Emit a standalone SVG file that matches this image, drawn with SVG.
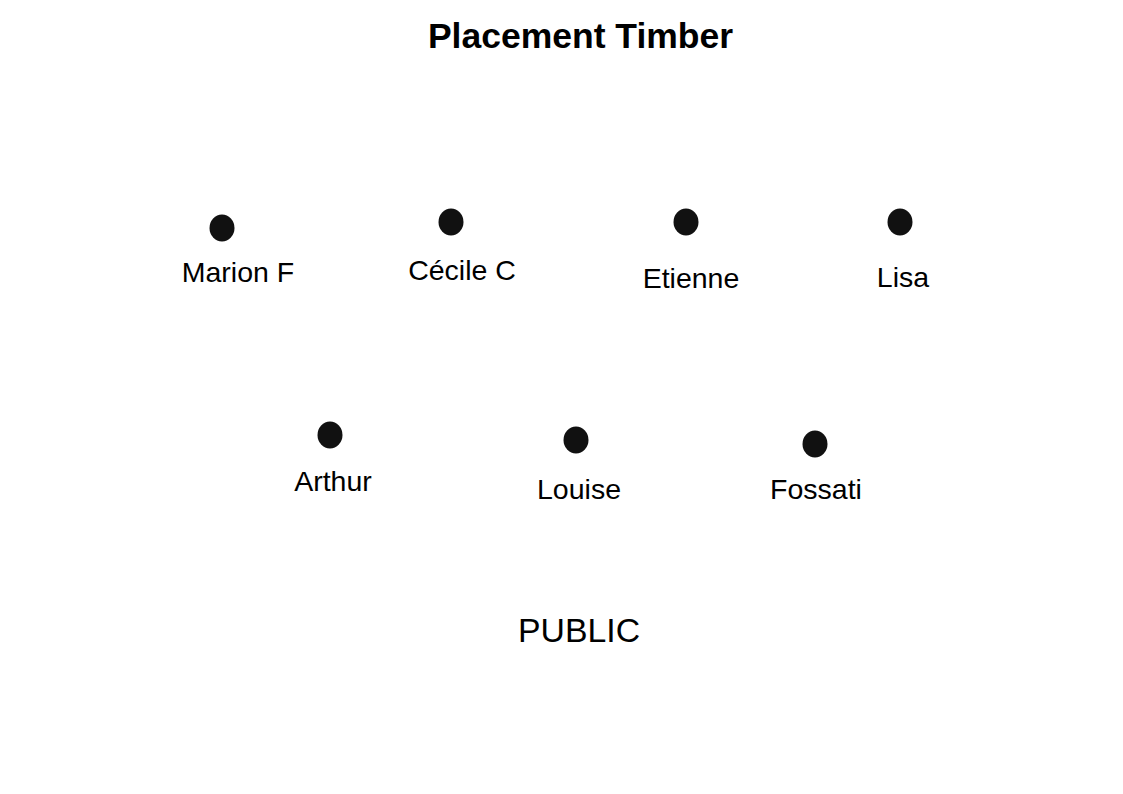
<svg xmlns="http://www.w3.org/2000/svg" width="1123" height="794" viewBox="0 0 1123 794">
<style>
.dot{fill:#111111}
.lbl{font-family:"Liberation Sans",Arial,sans-serif;font-size:28.5px;fill:#000;text-anchor:middle}
.title{font-family:"Liberation Sans",Arial,sans-serif;font-size:35.5px;font-weight:bold;fill:#000;text-anchor:middle}
.pub{font-family:"Liberation Sans",Arial,sans-serif;font-size:33.8px;fill:#000;text-anchor:middle}
</style>
<rect width="1123" height="794" fill="#ffffff"/>
<text class="title" x="580.5" y="48">Placement Timber</text>
<g id="marion"><ellipse class="dot" cx="222" cy="228" rx="12.5" ry="13.5"/><text class="lbl" x="238" y="282">Marion F</text></g>
<g id="cecile"><ellipse class="dot" cx="451" cy="222" rx="12.5" ry="13.5"/><text class="lbl" x="462" y="280">Cécile C</text></g>
<g id="etienne"><ellipse class="dot" cx="686" cy="222" rx="12.5" ry="13.5"/><text class="lbl" x="691" y="288">Etienne</text></g>
<g id="lisa"><ellipse class="dot" cx="900" cy="222" rx="12.5" ry="13.5"/><text class="lbl" x="903" y="287">Lisa</text></g>
<g id="arthur"><ellipse class="dot" cx="330" cy="435" rx="12.5" ry="13.5"/><text class="lbl" x="333" y="491">Arthur</text></g>
<g id="louise"><ellipse class="dot" cx="576" cy="440" rx="12.5" ry="13.5"/><text class="lbl" x="579" y="499">Louise</text></g>
<g id="fossati"><ellipse class="dot" cx="815" cy="444" rx="12.5" ry="13.5"/><text class="lbl" x="816" y="499">Fossati</text></g>
<g id="public"><text class="pub" x="579" y="642">PUBLIC</text></g>
<g id="connectors"/>
</svg>
